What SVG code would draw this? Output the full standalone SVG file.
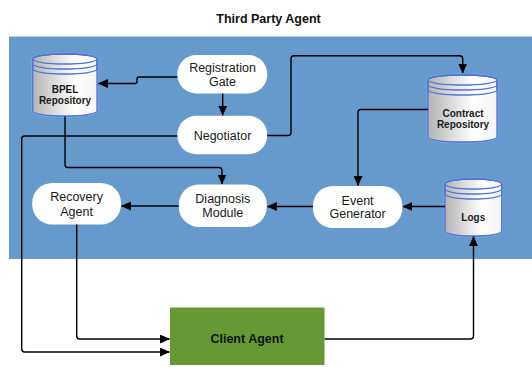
<svg xmlns="http://www.w3.org/2000/svg" width="532" height="367" viewBox="0 0 532 367">
<defs>
<linearGradient id="cyl" x1="0" y1="0" x2="1" y2="0">
<stop offset="0" stop-color="#b4b4b4"/>
<stop offset="0.65" stop-color="#ffffff"/>
<stop offset="1" stop-color="#f4f4f4"/>
</linearGradient>
<marker id="ah" markerWidth="10" markerHeight="9" refX="9.5" refY="4.5" orient="auto" markerUnits="userSpaceOnUse">
<path d="M0,0 L10,4.5 L0,9 Z" fill="#000"/>
</marker>
</defs>
<style>
.pill{fill:#fff;stroke:none}
.lbl{font-family:"Liberation Sans",Arial,sans-serif;font-size:12.5px;fill:#1a1a1a;text-anchor:middle}
.blbl{font-family:"Liberation Sans",Arial,sans-serif;font-size:10px;font-weight:bold;fill:#1a1a1a;text-anchor:middle}
.title{font-family:"Liberation Sans",Arial,sans-serif;font-size:12.5px;font-weight:bold;fill:#111;text-anchor:middle}
.cyl{fill:url(#cyl);stroke:#4f74d6;stroke-width:1.3}
.cylglow{fill:none;stroke:#8fb0f0;stroke-width:3;opacity:0.6}
.stripe{fill:none;stroke:#4f74d6;stroke-width:1.3}
.conn path{fill:none;stroke:#000;stroke-width:1.4;marker-end:url(#ah)}
</style>
<rect x="0" y="0" width="532" height="367" fill="#fff"/>
<text class="title" x="268.5" y="22.5">Third Party Agent</text>
<rect id="region" x="9" y="36.5" width="523" height="222.5" fill="#6699cc"/>

<g id="bpel">
<path class="cylglow" d="M32.7,59 A32.15,5 0 0 1 97,59 L97,111 A32.15,5 0 0 1 32.7,111 Z"/>
<path class="cyl" d="M32.7,59 A32.15,5 0 0 1 97,59 L97,111 A32.15,5 0 0 1 32.7,111 Z"/>
<ellipse class="stripe" cx="64.85" cy="59" rx="32.15" ry="5"/>
<path class="stripe" d="M32.7,59 L32.7,64 A32.15,5 0 0 0 97,64 L97,59"/>
<path class="stripe" d="M32.7,64 L32.7,69 A32.15,5 0 0 0 97,69 L97,64"/>
<text class="blbl" x="65" y="93.3">BPEL</text>
<text class="blbl" x="65" y="104.3">Repository</text>
</g>

<g id="contract">
<path class="cylglow" d="M428,80 A34.5,5 0 0 1 497,80 L497,137 A34.5,5 0 0 1 428,137 Z"/>
<path class="cyl" d="M428,80 A34.5,5 0 0 1 497,80 L497,137 A34.5,5 0 0 1 428,137 Z"/>
<ellipse class="stripe" cx="462.5" cy="80" rx="34.5" ry="5"/>
<path class="stripe" d="M428,80 L428,85 A34.5,5 0 0 0 497,85 L497,80"/>
<path class="stripe" d="M428,85 L428,90 A34.5,5 0 0 0 497,90 L497,85"/>
<text class="blbl" x="463" y="116.7">Contract</text>
<text class="blbl" x="463" y="128.3">Repository</text>
</g>

<g id="logs">
<path class="cylglow" d="M445,184 A28.35,5 0 0 1 501.7,184 L501.7,231 A28.35,5 0 0 1 445,231 Z"/>
<path class="cyl" d="M445,184 A28.35,5 0 0 1 501.7,184 L501.7,231 A28.35,5 0 0 1 445,231 Z"/>
<ellipse class="stripe" cx="473.35" cy="184" rx="28.35" ry="5"/>
<path class="stripe" d="M445,184 L445,189 A28.35,5 0 0 0 501.7,189 L501.7,184"/>
<path class="stripe" d="M445,189 L445,194 A28.35,5 0 0 0 501.7,194 L501.7,189"/>
<text class="blbl" x="473.3" y="221">Logs</text>
</g>

<g id="registration-gate">
<rect class="pill" x="177.3" y="55" width="90" height="38.5" rx="19" ry="19"/>
<text class="lbl" x="222.5" y="72">Registration</text>
<text class="lbl" x="222.5" y="86.3">Gate</text>
</g>

<g id="negotiator">
<rect class="pill" x="177.3" y="115.7" width="90" height="38.5" rx="19" ry="19"/>
<text class="lbl" x="222.5" y="139.5">Negotiator</text>
</g>

<g id="recovery-agent">
<rect class="pill" x="32.2" y="183" width="88.8" height="41.5" rx="20" ry="20"/>
<text class="lbl" x="76.6" y="201.4">Recovery</text>
<text class="lbl" x="76.6" y="215.7">Agent</text>
</g>

<g id="diagnosis-module">
<rect class="pill" x="178.8" y="184.5" width="88" height="42.4" rx="20" ry="20"/>
<text class="lbl" x="222.8" y="202.5">Diagnosis</text>
<text class="lbl" x="222.8" y="216.7">Module</text>
</g>

<g id="event-generator">
<rect class="pill" x="312.9" y="186" width="89.5" height="42" rx="20" ry="20"/>
<text class="lbl" x="357.6" y="204.8">Event</text>
<text class="lbl" x="357.6" y="218.4">Generator</text>
</g>

<g id="client-agent">
<rect x="170" y="307.5" width="154.5" height="57.5" fill="#669933"/>
<text class="title" x="247" y="342.5">Client Agent</text>
</g>

<g class="conn" id="connectors">
<path d="M177.3,77 L139,77 Q137,77 137,79 L137,81.5 Q137,83.5 135,83.5 L98.5,83.5"/>
<path d="M222.7,93.5 L222.7,115.2"/>
<path d="M267.3,135.5 L288,135.5 Q291,135.5 291,132.5 L291,58.7 Q291,55.7 294,55.7 L459.7,55.7 Q462.7,55.7 462.7,58.7 L462.7,73"/>
<path d="M177.3,136 L24.7,136 Q21.7,136 21.7,139 L21.7,349 Q21.7,352 24.7,352 L169.5,352"/>
<path d="M65,116.5 L65,164.5 Q65,167.5 68,167.5 L219,167.5 Q222,167.5 222,170.5 L222,184"/>
<path d="M428,109.5 L361,109.5 Q358,109.5 358,112.5 L358,185.5"/>
<path d="M445,206.5 L402.9,206.5"/>
<path d="M312.9,206.5 L267.3,206.5"/>
<path d="M178.8,206 L121.5,206"/>
<path d="M76.7,224.5 L76.7,336 Q76.7,339 79.7,339 L169.5,339"/>
<path d="M324.5,339 L470.5,339 Q473.5,339 473.5,336 L473.5,236.5"/>
</g>
</svg>
